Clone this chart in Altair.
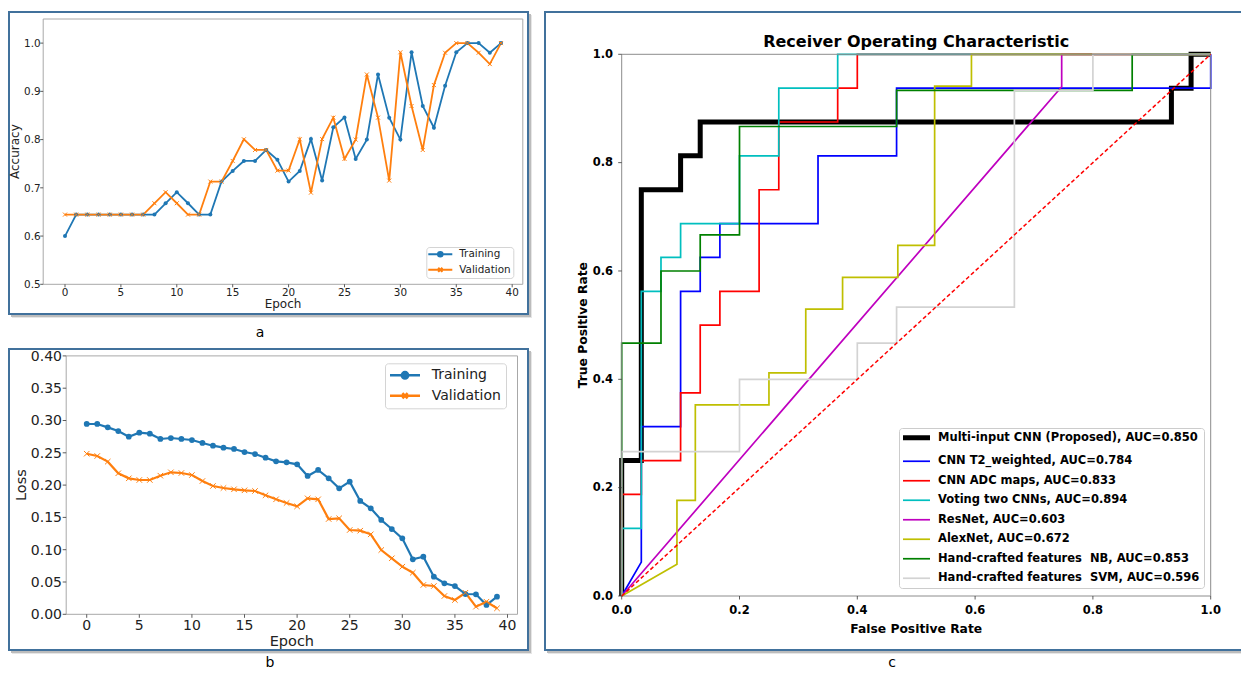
import altair as alt
import pandas as pd

FONT = "DejaVu Sans"
FRAME_BLUE = "#41719c"
TAB_BLUE = "#1f77b4"
TAB_ORANGE = "#ff7f0e"
XPATH = "M-1,-1L1,1M-1,1L1,-1"

# ---------------- panels a / b data ----------------
epochs = list(range(40))
series_names = ["Training", "Validation"]
epoch_ticks = [0, 5, 10, 15, 20, 25, 30, 35, 40]

acc_train = [0.600, 0.6445, 0.6445, 0.6445, 0.6445, 0.6445, 0.6445, 0.6445, 0.6445, 0.668,
             0.691, 0.668, 0.6445, 0.6445, 0.713, 0.735, 0.7557, 0.7557, 0.7785, 0.758,
             0.713, 0.735, 0.801, 0.715, 0.8255, 0.846, 0.760, 0.800, 0.935, 0.8455,
             0.800, 0.981, 0.8696, 0.8247, 0.9116, 0.981, 1.000, 1.000, 0.980, 1.000]
acc_val = [0.6445, 0.6445, 0.6445, 0.6445, 0.6445, 0.6445, 0.6445, 0.6445, 0.668, 0.691,
           0.668, 0.6445, 0.6445, 0.713, 0.713, 0.7557, 0.8006, 0.7785, 0.7785, 0.7357,
           0.7357, 0.8006, 0.690, 0.801, 0.8455, 0.760, 0.800, 0.935, 0.8455, 0.715,
           0.981, 0.8696, 0.7785, 0.913, 0.980, 1.000, 1.000, 0.980, 0.9565, 1.000]
acc_ticks = [0.5, 0.6, 0.7, 0.8, 0.9, 1.0]

loss_train = [0.2946, 0.2946, 0.2894, 0.2837, 0.2749, 0.2811, 0.2796, 0.2714, 0.2729, 0.2714,
              0.2698, 0.2652, 0.2610, 0.2579, 0.2559, 0.2512, 0.2481, 0.2424, 0.2368, 0.2353,
              0.2322, 0.2141, 0.2234, 0.2105, 0.1950, 0.2053, 0.1754, 0.1641, 0.1460, 0.1320,
              0.1176, 0.0851, 0.0892, 0.0582, 0.0480, 0.0438, 0.0314, 0.0310, 0.0144, 0.0272]
loss_val = [0.2486, 0.2450, 0.2363, 0.2183, 0.2105, 0.2079, 0.2079, 0.2146, 0.2198, 0.2187,
            0.2156, 0.2063, 0.1986, 0.1955, 0.1935, 0.1919, 0.1909, 0.1842, 0.1780, 0.1723,
            0.1671, 0.1795, 0.1780, 0.1475, 0.1486, 0.1305, 0.1294, 0.1238, 0.0995, 0.0867,
            0.0737, 0.0644, 0.0454, 0.0438, 0.0283, 0.0221, 0.0334, 0.0118, 0.0195, 0.0093]
loss_ticks = [0.0, 0.05, 0.10, 0.15, 0.20, 0.25, 0.30, 0.35, 0.40]

# ---------------- panel c data ----------------
roc_labels = ["Multi-input CNN (Proposed), AUC=0.850",
              "CNN T2_weighted, AUC=0.784",
              "CNN ADC maps, AUC=0.833",
              "Voting two CNNs, AUC=0.894",
              "ResNet, AUC=0.603",
              "AlexNet, AUC=0.672",
              "Hand-crafted features\u00a0 NB, AUC=0.853",
              "Hand-crafted features\u00a0 SVM, AUC=0.596"]
roc_colors = ["#000000", "#0000ff", "#ff0000", "#00bfbf", "#bf00bf", "#bfbf00", "#008000", "#d3d3d3"]
roc_widths = [5, 1.7, 1.7, 1.7, 1.7, 1.7, 1.7, 1.7]

fpr_multi = [0, 0, 0.0333, 0.0333, 0.1, 0.1, 0.1333, 0.1333, 0.9333, 0.9333, 0.9667, 0.9667, 1.0]
tpr_multi = [0, 0.25, 0.25, 0.75, 0.75, 0.8125, 0.8125, 0.875, 0.875, 0.9375, 0.9375, 1.0, 1.0]
fpr_t2 = [0, 0.0333, 0.0333, 0.1, 0.1, 0.1333, 0.1333, 0.1667, 0.1667, 0.3333, 0.3333, 0.4667, 0.4667, 1.0, 1.0]
tpr_t2 = [0, 0.0625, 0.3125, 0.3125, 0.5625, 0.5625, 0.625, 0.625, 0.6875, 0.6875, 0.8125, 0.8125, 0.9375, 0.9375, 1.0]
fpr_adc = [0, 0, 0.0333, 0.0333, 0.1, 0.1, 0.1333, 0.1333, 0.1667, 0.1667, 0.2333, 0.2333, 0.2667, 0.2667,
           0.3667, 0.3667, 0.4, 0.4, 1.0]
tpr_adc = [0, 0.1875, 0.1875, 0.25, 0.25, 0.375, 0.375, 0.5, 0.5, 0.5625, 0.5625, 0.75, 0.75, 0.875,
           0.875, 0.9375, 0.9375, 1.0, 1.0]
fpr_vote = [0, 0, 0.0333, 0.0333, 0.0667, 0.0667, 0.1, 0.1, 0.2, 0.2, 0.2667, 0.2667, 0.3667, 0.3667, 1.0]
tpr_vote = [0, 0.125, 0.125, 0.5625, 0.5625, 0.625, 0.625, 0.6875, 0.6875, 0.8125, 0.8125, 0.9375, 0.9375, 1.0, 1.0]
fpr_resnet = [0, 0.747, 0.747, 1.0]
tpr_resnet = [0, 0.94, 1.0, 1.0]
fpr_alex = [0, 0.0938, 0.0938, 0.125, 0.125, 0.25, 0.25, 0.3125, 0.3125, 0.375, 0.375, 0.4688, 0.4688,
            0.5313, 0.5313, 0.5938, 0.5938, 1.0]
tpr_alex = [0, 0.0588, 0.1765, 0.1765, 0.3529, 0.3529, 0.4118, 0.4118, 0.5294, 0.5294, 0.5882, 0.5882,
            0.6471, 0.6471, 0.9412, 0.9412, 1.0, 1.0]
fpr_nb = [0, 0, 0.0667, 0.0667, 0.1333, 0.1333, 0.2, 0.2, 0.4667, 0.4667, 0.8667, 0.8667, 1.0]
tpr_nb = [0, 0.4667, 0.4667, 0.6, 0.6, 0.6667, 0.6667, 0.8667, 0.8667, 0.9333, 0.9333, 1.0, 1.0]
fpr_svm = [0, 0, 0.2, 0.2, 0.4, 0.4, 0.4667, 0.4667, 0.6667, 0.6667, 0.8, 0.8, 1.0]
tpr_svm = [0, 0.2667, 0.2667, 0.4, 0.4, 0.4667, 0.4667, 0.5333, 0.5333, 0.9333, 0.9333, 1.0, 1.0]
diag_x = [0, 1]
diag_y = [0, 1]
roc_ticks = [0.0, 0.2, 0.4, 0.6, 0.8, 1.0]

roc_curves = [(fpr_multi, tpr_multi), (fpr_t2, tpr_t2), (fpr_adc, tpr_adc), (fpr_vote, tpr_vote),
              (fpr_resnet, tpr_resnet), (fpr_alex, tpr_alex), (fpr_nb, tpr_nb), (fpr_svm, tpr_svm)]

rows = []
for name, (fx, ty) in zip(roc_labels, roc_curves):
    for i, (a, b) in enumerate(zip(fx, ty)):
        rows.append({"model": name, "fpr": a, "tpr": b, "idx": i})
roc_df = pd.DataFrame(rows)

ONE = pd.DataFrame({"k": [0]})


def long_df(train, val):
    return pd.DataFrame({"epoch": epochs + epochs,
                         "value": train + val,
                         "series": [series_names[0]] * len(train) + [series_names[1]] * len(val)})


def box(x1, x2, y1, y2, **kw):
    return alt.Chart(ONE).mark_rect(**kw).encode(
        x=alt.value(x1), x2=alt.value(x2), y=alt.value(y1), y2=alt.value(y2))


def letter_mark(letter, lx, ly, lfs):
    return alt.Chart(ONE).mark_text(text=letter, font=FONT, fontSize=lfs, align="center",
                                    baseline="alphabetic", color="#000000").encode(
        x=alt.value(lx), y=alt.value(ly))


def decor_full(W, H, letter, lx, ly, lfs):
    return [box(3, W + 4, H + 1, H + 4, fill="#e6e6e6"),
            box(2, W + 3, H + 1, H + 3, fill="#bcbcbc"),
            box(W + 1, W + 4, 3, H + 4, fill="#e6e6e6"),
            box(W + 1, W + 3, 2, H + 3, fill="#bcbcbc"),
            box(0, W, 0, H, fillOpacity=0, stroke=FRAME_BLUE, strokeWidth=2),
            letter_mark(letter, lx, ly, lfs)]


def decor_open(W, H, letter, lx, ly, lfs):
    # frame that continues past the right edge of the page: top, left and bottom sides only
    return [box(3, W, H + 1, H + 4, fill="#e6e6e6"),
            box(2, W, H + 1, H + 3, fill="#bcbcbc"),
            box(-1, W, -1, 1, fill=FRAME_BLUE),
            box(-1, 1, -1, H + 1, fill=FRAME_BLUE),
            box(-1, W, H - 1, H + 1, fill=FRAME_BLUE),
            letter_mark(letter, lx, ly, lfs)]


def manual_axes(xs, ys, xdom, ydom, xticks, yticks, xfmt, yfmt, xtitle, ytitle,
                fs_lab, fs_tit, weight, tick, xl_off, yl_off, yl_dy, xt_off, yt_off, color):
    xt = pd.DataFrame({"v": xticks})
    yt = pd.DataFrame({"v": yticks})
    x0 = alt.XDatum(xdom[0], scale=xs, axis=None)
    y0 = alt.YDatum(ydom[0], scale=ys, axis=None)
    x_ticks = alt.Chart(xt).mark_rule(color="#333333", strokeWidth=0.8, y2Offset=tick).encode(
        x=alt.X("v:Q", scale=xs, axis=None), y=y0, y2=alt.Y2Datum(ydom[0]))
    x_labels = alt.Chart(xt).mark_text(baseline="middle", align="center", yOffset=xl_off,
                                       font=FONT, fontSize=fs_lab, fontWeight=weight, color=color).encode(
        x=alt.X("v:Q", scale=xs, axis=None), y=y0, text=alt.Text("v:Q", format=xfmt))
    y_ticks = alt.Chart(yt).mark_rule(color="#333333", strokeWidth=0.8, x2Offset=-tick).encode(
        y=alt.Y("v:Q", scale=ys, axis=None), x=x0, x2=alt.X2Datum(xdom[0]))
    y_labels = alt.Chart(yt).mark_text(baseline="middle", align="right", xOffset=yl_off, yOffset=yl_dy,
                                       font=FONT, fontSize=fs_lab, fontWeight=weight, color=color).encode(
        y=alt.Y("v:Q", scale=ys, axis=None), x=x0, text=alt.Text("v:Q", format=yfmt))
    x_title = alt.Chart(ONE).mark_text(text=xtitle, baseline="alphabetic", align="center", yOffset=xt_off,
                                       font=FONT, fontSize=fs_tit, fontWeight=weight, color=color).encode(
        x=alt.XDatum((xdom[0] + xdom[1]) / 2, scale=xs, axis=None), y=y0)
    y_title = alt.Chart(ONE).mark_text(text=ytitle, angle=270, baseline="middle", align="center",
                                       xOffset=yt_off, font=FONT, fontSize=fs_tit, fontWeight=weight,
                                       color=color).encode(
        x=x0, y=alt.YDatum((ydom[0] + ydom[1]) / 2, scale=ys, axis=None))
    return [x_ticks, x_labels, y_ticks, y_labels, x_title, y_title]


def curve_panel(train, val, W, H, xr, yr, ydom, yticks, yfmt, ytitle,
                fs_lab, fs_tit, tick, xl_off, yl_off, yl_dy, xt_off, yt_off, lw, dot, xsz,
                leg_x, leg_y, leg_fs, leg_size, leg_sw, leg_off, leg_row, leg_pad, paths,
                letter, lx, ly, lfs):
    df = long_df(train, val)
    xdom = [-1.95, 40.95]
    xs = alt.Scale(domain=xdom, range=xr)
    ys = alt.Scale(domain=ydom, range=yr)

    base = alt.Chart(df)
    line_t = base.transform_filter(alt.datum.series == series_names[0]).mark_line(
        strokeWidth=lw, color=TAB_BLUE).encode(
        x=alt.X("epoch:Q", scale=xs, axis=None), y=alt.Y("value:Q", scale=ys, axis=None))
    line_v = base.transform_filter(alt.datum.series == series_names[1]).mark_line(
        strokeWidth=lw, color=TAB_ORANGE).encode(
        x=alt.X("epoch:Q", scale=xs, axis=None), y=alt.Y("value:Q", scale=ys, axis=None))
    pts_t = base.transform_filter(alt.datum.series == series_names[0]).mark_point(
        shape="circle", filled=True, size=dot, color=TAB_BLUE, opacity=1).encode(
        x=alt.X("epoch:Q", scale=xs, axis=None), y=alt.Y("value:Q", scale=ys, axis=None))
    pts_v = base.transform_filter(alt.datum.series == series_names[1]).mark_point(
        shape=XPATH, filled=False, size=xsz, color=TAB_ORANGE, strokeWidth=1, opacity=1).encode(
        x=alt.X("epoch:Q", scale=xs, axis=None), y=alt.Y("value:Q", scale=ys, axis=None))

    spine = alt.Chart(ONE).mark_rect(fillOpacity=0, stroke="#a8a8a8", strokeWidth=1).encode(
        x=alt.XDatum(xdom[0], scale=xs, axis=None), x2=alt.X2Datum(xdom[1]),
        y=alt.YDatum(ydom[0], scale=ys, axis=None), y2=alt.Y2Datum(ydom[1]))

    axes = manual_axes(xs, ys, xdom, ydom, epoch_ticks, yticks, "d", yfmt, "Epoch", ytitle,
                       fs_lab, fs_tit, "normal", tick, xl_off, yl_off, yl_dy, xt_off, yt_off, "#222222")

    leg = alt.Legend(title=None, orient="none", legendX=leg_x, legendY=leg_y,
                     labelFont=FONT, labelFontSize=leg_fs, labelColor="#222222",
                     symbolSize=leg_size, symbolStrokeWidth=leg_sw, symbolOpacity=1,
                     labelOffset=leg_off, rowPadding=leg_row, padding=leg_pad,
                     fillColor="white", strokeColor="#d4d4d4", cornerRadius=3, labelLimit=300)
    dummy = alt.Chart(pd.DataFrame({"series": series_names})).mark_point(
        filled=True, strokeWidth=leg_sw).encode(
        color=alt.Color("series:N", scale=alt.Scale(domain=series_names, range=[TAB_BLUE, TAB_ORANGE]), legend=leg),
        stroke=alt.Stroke("series:N", scale=alt.Scale(domain=series_names, range=[TAB_BLUE, TAB_ORANGE]), legend=leg),
        shape=alt.Shape("series:N", scale=alt.Scale(domain=series_names, range=paths), legend=leg),
        opacity=alt.value(0))

    layers = decor_full(W, H, letter, lx, ly, lfs) + [line_t, line_v, pts_t, pts_v, spine] + axes + [dummy]
    return alt.layer(*layers).properties(width=W, height=H)


PATH_A_DOT = "M-1.486,0H5.371M2.6,0A0.657,0.657,0,1,1,1.286,0A0.657,0.657,0,1,1,2.6,0"
PATH_A_X = "M-1.486,0H5.371M1.343,-0.6L2.543,0.6M1.343,0.6L2.543,-0.6"
PATH_B_DOT = "M-1.75,0H5.75M2.8,0A0.8,0.8,0,1,1,1.2,0A0.8,0.8,0,1,1,2.8,0"
PATH_B_X = "M-1.75,0H5.75M1.35,-0.65L2.65,0.65M1.35,0.65L2.65,-0.65"

panel_a = curve_panel(acc_train, acc_val, W=519, H=302, xr=[34.2, 513.8], yr=[272.3, 7],
                      ydom=[0.5, 1.05], yticks=acc_ticks, yfmt=".1f", ytitle="Accuracy",
                      fs_lab=10.4, fs_tit=12, tick=3, xl_off=8.4, yl_off=-2.6, yl_dy=0.7,
                      xt_off=23.8, yt_off=-28.2, lw=1.8, dot=16, xsz=16,
                      leg_x=417.3, leg_y=235, leg_fs=10.4, leg_size=49, leg_sw=2, leg_off=20.6,
                      leg_row=2.6, leg_pad=2, paths=[PATH_A_DOT, PATH_A_X],
                      letter="a", lx=251, ly=324.9, lfs=14)

panel_b = curve_panel(loss_train, loss_val, W=519, H=301, xr=[57.2, 508.5], yr=[265.3, 6.9],
                      ydom=[0.0, 0.4], yticks=loss_ticks, yfmt=".2f", ytitle="Loss",
                      fs_lab=14, fs_tit=14.5, tick=3.5, xl_off=11.6, yl_off=-4.2, yl_dy=0.9,
                      xt_off=31.3, yt_off=-44.6, lw=2.2, dot=33, xsz=30,
                      leg_x=376, leg_y=14.3, leg_fs=14, leg_size=64, leg_sw=2.5, leg_off=27.7,
                      leg_row=3.4, leg_pad=5, paths=[PATH_B_DOT, PATH_B_X],
                      letter="b", lx=261, ly=318, lfs=14)

# ---------------- panel c ----------------
WC, HC = 696, 638
xdom_c = [0, 1]
ydom_c = [0, 1]
xs_c = alt.Scale(domain=xdom_c, range=[76.7, 665.7])
ys_c = alt.Scale(domain=ydom_c, range=[584, 42.3])

PATH_C = "M-1.917,0H7.083"
leg_c = alt.Legend(title=None, orient="none", legendX=354, legendY=416, symbolType=PATH_C,
                   symbolSize=36, labelOffset=23.5, rowPadding=6.5, padding=4,
                   labelFont=FONT, labelFontSize=11.5, labelFontWeight="bold", labelColor="#000000",
                   labelLimit=400, fillColor="white", strokeColor="#cccccc", cornerRadius=3)

roc_lines = alt.Chart(roc_df).mark_line().encode(
    x=alt.X("fpr:Q", scale=xs_c, axis=None),
    y=alt.Y("tpr:Q", scale=ys_c, axis=None),
    color=alt.Color("model:N", scale=alt.Scale(domain=roc_labels, range=roc_colors), legend=leg_c),
    strokeWidth=alt.StrokeWidth("model:O", sort=roc_labels,
                                scale=alt.Scale(type="ordinal", domain=roc_labels, range=roc_widths),
                                legend=leg_c),
    order=alt.Order("idx:Q"))

spine_c = alt.Chart(ONE).mark_rect(fillOpacity=0, stroke="#8c8c8c", strokeWidth=1).encode(
    x=alt.XDatum(xdom_c[0], scale=xs_c, axis=None), x2=alt.X2Datum(xdom_c[1]),
    y=alt.YDatum(ydom_c[0], scale=ys_c, axis=None), y2=alt.Y2Datum(ydom_c[1]))

diag = alt.Chart(pd.DataFrame({"fpr": diag_x, "tpr": diag_y})).mark_line(
    color="#ff0000", strokeWidth=1.5, strokeDash=[4, 2.5]).encode(
    x=alt.X("fpr:Q", scale=xs_c, axis=None), y=alt.Y("tpr:Q", scale=ys_c, axis=None))

title_c = alt.Chart(ONE).mark_text(
    text="Receiver Operating Characteristic", font=FONT, fontSize=16, fontWeight="bold",
    align="center", baseline="alphabetic", dy=-7, color="#000000").encode(
    x=alt.XDatum(0.5, scale=xs_c, axis=None), y=alt.YDatum(1.0, scale=ys_c, axis=None))

axes_c = manual_axes(xs_c, ys_c, xdom_c, ydom_c, roc_ticks, roc_ticks, ".1f", ".1f",
                     "False Positive Rate", "True Positive Rate", 11.5, 12.3, "bold", 3.5,
                     14.7, -8.7, 0.75, 37.3, -38.4, "#000000")

panel_c = alt.layer(*(decor_open(WC, HC, "c", 347, 655, 14)
                      + [roc_lines, spine_c, diag, title_c] + axes_c)).properties(width=WC, height=HC)

left = alt.vconcat(panel_a, panel_b, spacing=35, bounds="flush").resolve_scale(
    color="independent", stroke="independent", shape="independent").resolve_legend(
    color="independent", stroke="independent", shape="independent")

chart = alt.hconcat(left, panel_c, spacing=12,
                    padding={"left": 0, "top": 3, "right": 0, "bottom": 0}).resolve_scale(
    color="independent", stroke="independent", shape="independent",
    strokeWidth="independent").resolve_legend(
    color="independent", stroke="independent", shape="independent",
    strokeWidth="independent").configure(
    font=FONT, background="white").configure_view(strokeWidth=0)

chart.save("out.html", embed_options={"renderer": "svg", "actions": False})
